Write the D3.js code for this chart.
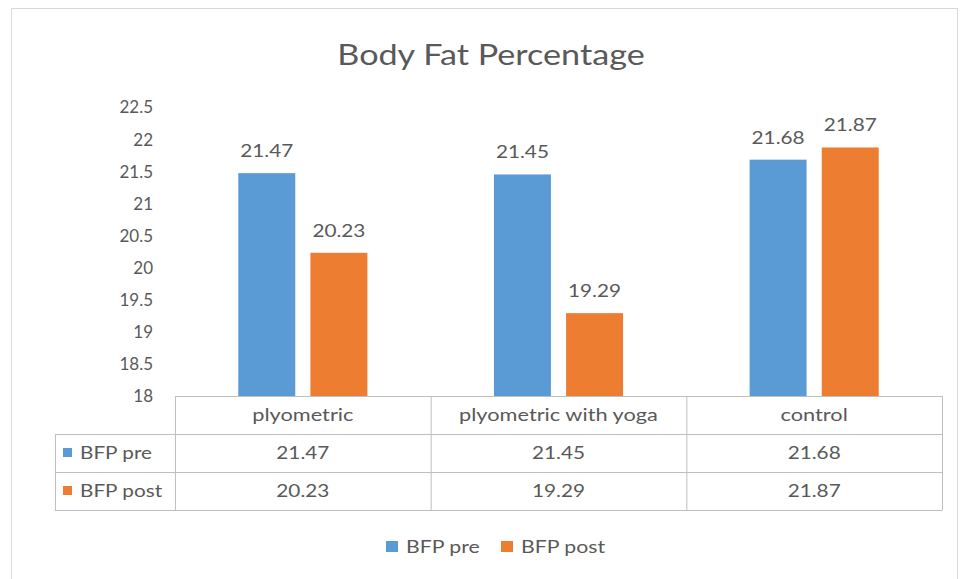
<!DOCTYPE html>
<html>
<head>
<meta charset="utf-8">
<script src="https://cdn.jsdelivr.net/npm/d3@7"></script>
<style>
  html, body { margin: 0; padding: 0; background: #fff; }
  svg { display: block; }
  text { font-family: Lato, "Open Sans", sans-serif; fill: #595959; }
</style>
</head>
<body>
<svg id="chart" width="961" height="579"></svg>
<script>
// Data
const categories = ["plyometric", "plyometric with yoga", "control"];
const seriesNames = ["BFP pre", "BFP post"];
const bfpPre = [21.47, 21.45, 21.68];
const bfpPost = [20.23, 19.29, 21.87];
const yTicks = [18, 18.5, 19, 19.5, 20, 20.5, 21, 21.5, 22, 22.5];
const colors = ["#5B9BD5", "#ED7D31"];

const seriesValues = [bfpPre, bfpPost];

const svg = d3.select("#chart");

// Widen text horizontally about its own anchor point
function widen(sel, k) {
  sel.each(function () {
    const t = d3.select(this);
    const x = +t.attr("x") || 0, yy = +t.attr("y") || 0;
    t.attr("transform", `translate(${x},${yy}) scale(${k},1) translate(${-x},${-yy})`);
  });
}

// Chart frame
svg.append("rect")
  .attr("x", 11.5).attr("y", 8.5)
  .attr("width", 946).attr("height", 580)
  .attr("fill", "#fff").attr("stroke", "#d9d9d9").attr("stroke-width", 1);

// Title
svg.append("text")
  .attr("x", 491).attr("y", 65)
  .attr("text-anchor", "middle")
  .style("font-size", "28px")
  .text("Body Fat Percentage")
  .call(widen, 1.22);

// Scales
const plotLeft = 175, plotRight = 942, plotTop = 107, plotBottom = 396;
const x0 = d3.scaleBand().domain(categories).range([plotLeft, plotRight]).padding(0);
const bw = x0.bandwidth();
const x1 = d3.scaleBand().domain(seriesNames)
  .range([bw * 0.2475, bw * 0.7525]).paddingInner(0.21);
const y = d3.scaleLinear().domain([18, 22.5]).range([plotBottom, plotTop]);

// Y axis labels
const yAxis = d3.axisLeft(y).tickValues(yTicks).tickSize(0).tickPadding(0)
  .tickFormat(d3.format("~g"));
const gy = svg.append("g").attr("transform", `translate(153,0)`).call(yAxis);
gy.select(".domain").remove();
gy.selectAll("text")
  .attr("dy", "0.35em")
  .style("font-size", "17px")
  .style("fill", "#595959")
  .style("font-family", "Lato, 'Open Sans', sans-serif");

// Bars
const groups = svg.append("g").selectAll("g")
  .data(categories)
  .join("g")
  .attr("transform", d => `translate(${x0(d)},0)`);

groups.selectAll("rect")
  .data((d, i) => seriesNames.map((s, j) => ({ s, j, v: seriesValues[j][i] })))
  .join("rect")
  .attr("x", d => x1(d.s))
  .attr("width", x1.bandwidth())
  .attr("y", d => y(d.v))
  .attr("height", d => y(18) - y(d.v))
  .attr("fill", d => colors[d.j]);

groups.selectAll("text.val")
  .data((d, i) => seriesNames.map((s, j) => ({ s, j, v: seriesValues[j][i] })))
  .join("text")
  .attr("class", "val")
  .attr("x", d => x1(d.s) + x1.bandwidth() / 2)
  .attr("y", d => y(d.v) - 16)
  .attr("text-anchor", "middle")
  .style("font-size", "17px")
  .text(d => d3.format(".2f")(d.v))
  .call(widen, 1.22);

// Data table
const rowTop = plotBottom, rowH = 38, tableLeft = 55;
const rowY = [rowTop, rowTop + rowH, rowTop + 2 * rowH, rowTop + 3 * rowH];
const table = svg.append("g").attr("stroke", "#bfbfbf").attr("stroke-width", 1);

// horizontal lines
table.append("line").attr("x1", plotLeft).attr("x2", plotRight)
  .attr("y1", rowY[0] + 0.5).attr("y2", rowY[0] + 0.5);
[1, 2, 3].forEach(k => {
  table.append("line").attr("x1", tableLeft).attr("x2", plotRight)
    .attr("y1", rowY[k] + 0.5).attr("y2", rowY[k] + 0.5);
});
// vertical lines
table.append("line").attr("x1", tableLeft + 0.5).attr("x2", tableLeft + 0.5)
  .attr("y1", rowY[1]).attr("y2", rowY[3] + 0.5);
categories.forEach(c => {
  table.append("line").attr("x1", x0(c) + 0.5).attr("x2", x0(c) + 0.5)
    .attr("y1", rowY[0]).attr("y2", rowY[3] + 0.5);
});
table.append("line").attr("x1", plotRight + 0.5).attr("x2", plotRight + 0.5)
  .attr("y1", rowY[0]).attr("y2", rowY[3] + 0.5);

// header
svg.append("g").selectAll("text")
  .data(categories)
  .join("text")
  .attr("x", d => x0(d) + bw / 2)
  .attr("y", rowY[0] + rowH / 2 + 6)
  .attr("text-anchor", "middle")
  .style("font-size", "17px")
  .text(d => d)
  .call(widen, 1.28);

// rows
seriesNames.forEach((s, j) => {
  const cy = rowY[j + 1] + rowH / 2 + 6;
  svg.append("rect")
    .attr("x", 63).attr("y", cy - 11)
    .attr("width", 9).attr("height", 9)
    .attr("fill", colors[j]);
  svg.append("text")
    .attr("x", 80).attr("y", cy)
    .style("font-size", "17px")
    .text(s)
    .call(widen, 1.22);
  svg.append("g").selectAll("text")
    .data(categories)
    .join("text")
    .attr("x", d => x0(d) + bw / 2)
    .attr("y", cy)
    .attr("text-anchor", "middle")
    .style("font-size", "17px")
    .text((d, i) => d3.format(".2f")(seriesValues[j][i]))
    .call(widen, 1.22);
});

// Legend
const legend = svg.append("g").attr("transform", "translate(386,547)");
const legendX = [0, 115];
seriesNames.forEach((s, j) => {
  const g = legend.append("g").attr("transform", `translate(${legendX[j]},0)`);
  g.append("rect").attr("x", 0).attr("y", -6).attr("width", 12).attr("height", 11)
    .attr("fill", colors[j]);
  g.append("text").attr("x", 20).attr("y", 6)
    .style("font-size", "17px").text(s)
    .call(widen, 1.25);
});
</script>
</body>
</html>
